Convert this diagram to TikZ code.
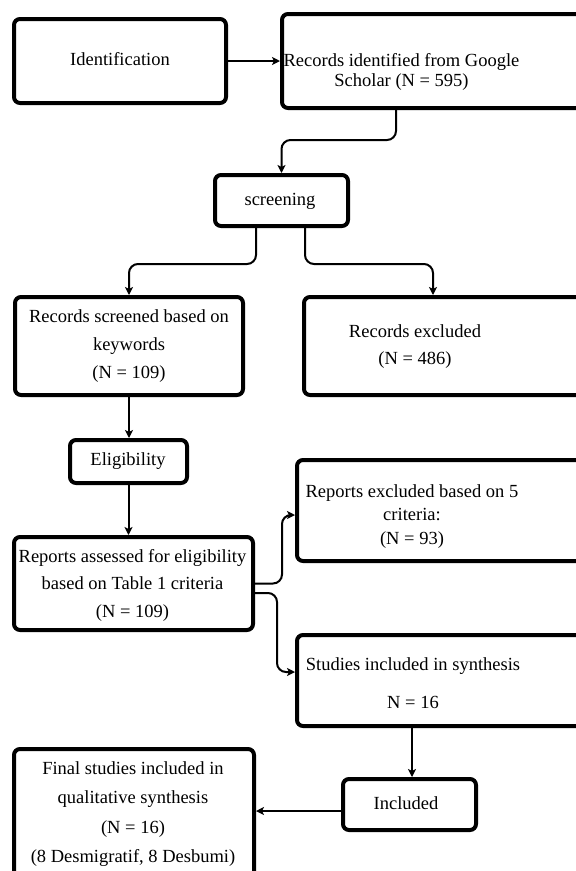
\documentclass[tikz,border=0pt]{standalone}
\usepackage{fontspec}
\setmainfont{Liberation Serif}
\usetikzlibrary{arrows.meta}
\begin{document}
\begin{tikzpicture}[x=1pt,y=-1pt,
  box/.style={draw=black,line width=4pt,rounded corners=6pt,inner sep=0pt},
  txt/.style={align=center,inner sep=0pt,font=\fontsize{18.5}{#1}\selectfont},
  txt/.default=22,
  conn/.style={line width=2pt,rounded corners=9pt,-{Stealth[length=8pt,width=8pt,inset=2pt]}}]
\useasboundingbox (0,0) rectangle (576,871);
\fill[white] (0,0) rectangle (576,871);
\clip (0,0) rectangle (576,871);
% boxes
\node[box,minimum width=212pt,minimum height=84pt] (b1) at (120,61) {};
\node[box,minimum width=318pt,minimum height=94pt] (b2) at (441,61) {};
\node[box,minimum width=133pt,minimum height=51pt] (b3) at (281.5,200.5) {};
\node[box,minimum width=228pt,minimum height=98pt] (b4) at (129,346) {};
\node[box,minimum width=296pt,minimum height=98pt] (b5) at (452,346) {};
\node[box,minimum width=117pt,minimum height=43pt] (b6) at (128.5,461.5) {};
\node[box,minimum width=303pt,minimum height=101pt] (b7) at (448.5,510.5) {};
\node[box,minimum width=239pt,minimum height=93pt] (b8) at (133.5,583.5) {};
\node[box,minimum width=303pt,minimum height=91pt] (b9) at (448.5,680.5) {};
\node[box,minimum width=133pt,minimum height=51pt] (b10) at (409.5,804.5) {};
\node[box,minimum width=240pt,minimum height=151pt] (b11) at (134,824.5) {};
% texts
\node[txt] (t1) at (120,59.5) {Identification};
\node[txt=20.5] (t2) at (401.5,72) {Records identified from Google\\Scholar (N = 595)};
\node[txt] (t3) at (280,201) {screening};
\node[txt=28] (t4) at (129,346.5) {Records screened based on\\keywords\\(N = 109)};
\node[txt=27] (t5) at (415,347) {Records excluded\\(N = 486)};
\node[txt] (t6) at (128,461.5) {Eligibility};
\node[txt=23.5] (t7) at (412,516.5) {Reports excluded based on 5\\criteria:\\(N = 93)};
\node[txt=27.5] (t8) at (132.5,585) {Reports assessed for eligibility\\based on Table 1 criteria\\(N = 109)};
\node[txt=38] (t9) at (413,683.5) {Studies included in synthesis\\N = 16};
\node[txt] (t10) at (406,803.5) {Included};
\node[txt=29.5] (t11) at (133,814) {Final studies included in\\qualitative synthesis\\(N = 16)\\(8 Desmigratif, 8 Desbumi)};
% connectors
\draw[conn] (b1.east) -- (b2.west);
\draw[conn] ([xshift=-45pt]b2.south) -- ++(0,30) -| (b3.north);
\draw[conn] ([xshift=-25.5pt]b3.south) -- ++(0,36) -| (b4.north);
\draw[conn] ([xshift=23.5pt]b3.south) -- ++(0,36) -| ([xshift=-19pt]b5.north);
\draw[conn] (b4.south) -- (b4.south |- b6.north);
\draw[conn] (b6.south) -- (b6.south |- b8.north);
\draw[conn] (b8.east) -- ++(27,0) |- ([yshift=-4.5pt]b7.west);
\draw[conn] ([yshift=-9.5pt]b8.east) -- ++(22,0) |- ([yshift=8.5pt]b9.west);
\draw[conn] ([xshift=-36.5pt]b9.south) -- ([xshift=-36.5pt]b9.south |- b10.north);
\draw[conn] ([yshift=-6.5pt]b10.west) -- ([yshift=-6.5pt]b10.west -| b11.east);
\end{tikzpicture}
\end{document}
